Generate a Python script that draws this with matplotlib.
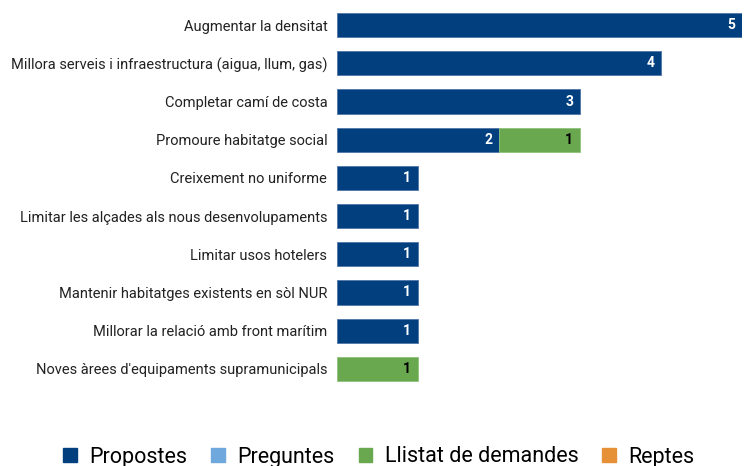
import matplotlib
matplotlib.use("Agg")
import matplotlib.pyplot as plt
from matplotlib.patches import Patch
import numpy as np

plt.rcParams['font.family'] = ['Roboto', 'DejaVu Sans']

categories = [
    "Augmentar la densitat",
    "Millora serveis i infraestructura (aigua, llum, gas)",
    "Completar camí de costa",
    "Promoure habitatge social",
    "Creixement no uniforme",
    "Limitar les alçades als nous desenvolupaments",
    "Limitar usos hotelers",
    "Mantenir habitatges existents en sòl NUR",
    "Millorar la relació amb front marítim",
    "Noves àrees d'equipaments supramunicipals",
]
series_names = ["Propostes", "Preguntes", "Llistat de demandes", "Reptes"]
propostes = [5, 4, 3, 2, 1, 1, 1, 1, 1, 0]
preguntes = [0, 0, 0, 0, 0, 0, 0, 0, 0, 0]
llistat = [0, 0, 0, 1, 0, 0, 0, 0, 0, 1]
reptes = [0, 0, 0, 0, 0, 0, 0, 0, 0, 0]

colors = ["#023f7f", "#6fa8dc", "#6aa84f", "#e69138"]
edge_colors = ["#4f76a8", "#9cc3e8", "#8fc07a", "#f0b070"]
label_colors = ["white", "black", "black", "black"]

fig = plt.figure(figsize=(7.45, 4.66), dpi=100)
ax = fig.add_axes([337/745, 78/466, (742-337)/745, (388-6)/466])

y = np.arange(len(categories))
left = np.zeros(len(categories))
for name, vals, c, ec, lc in zip(series_names, [propostes, preguntes, llistat, reptes],
                                 colors, edge_colors, label_colors):
    vals = np.array(vals, dtype=float)
    mask = vals > 0
    if mask.any():
        ax.barh(y[mask], vals[mask], left=left[mask], height=0.63, color=c, edgecolor=ec,
                linewidth=0.6, label=name)
    for yi, l, v in zip(y, left, vals):
        if v > 0:
            ax.annotate(f"{int(v)}", xy=(l + v, yi), xytext=(-5, 0), textcoords="offset points",
                        ha="right", va="center", color=lc, fontsize=10, fontweight="bold")
    left += vals

ax.set_xlim(0, 5)
ax.set_ylim(len(categories) - 0.5, -0.5)
ax.set_yticks(y)
ax.set_yticklabels(categories, fontsize=10.5, color="#222222")
ax.tick_params(axis="y", length=0, pad=7)
ax.set_xticks([])
for s in ax.spines.values():
    s.set_visible(False)

handles = [Patch(facecolor=c, edgecolor=c) for c in colors]
fig.legend(handles, series_names, loc="center", bbox_to_anchor=(379/745, 9/466), ncol=4,
           frameon=False, fontsize=15.5, handlelength=0.62, handleheight=0.62, handletextpad=0.6,
           columnspacing=1.1)

fig.savefig("out.png", dpi=100)
